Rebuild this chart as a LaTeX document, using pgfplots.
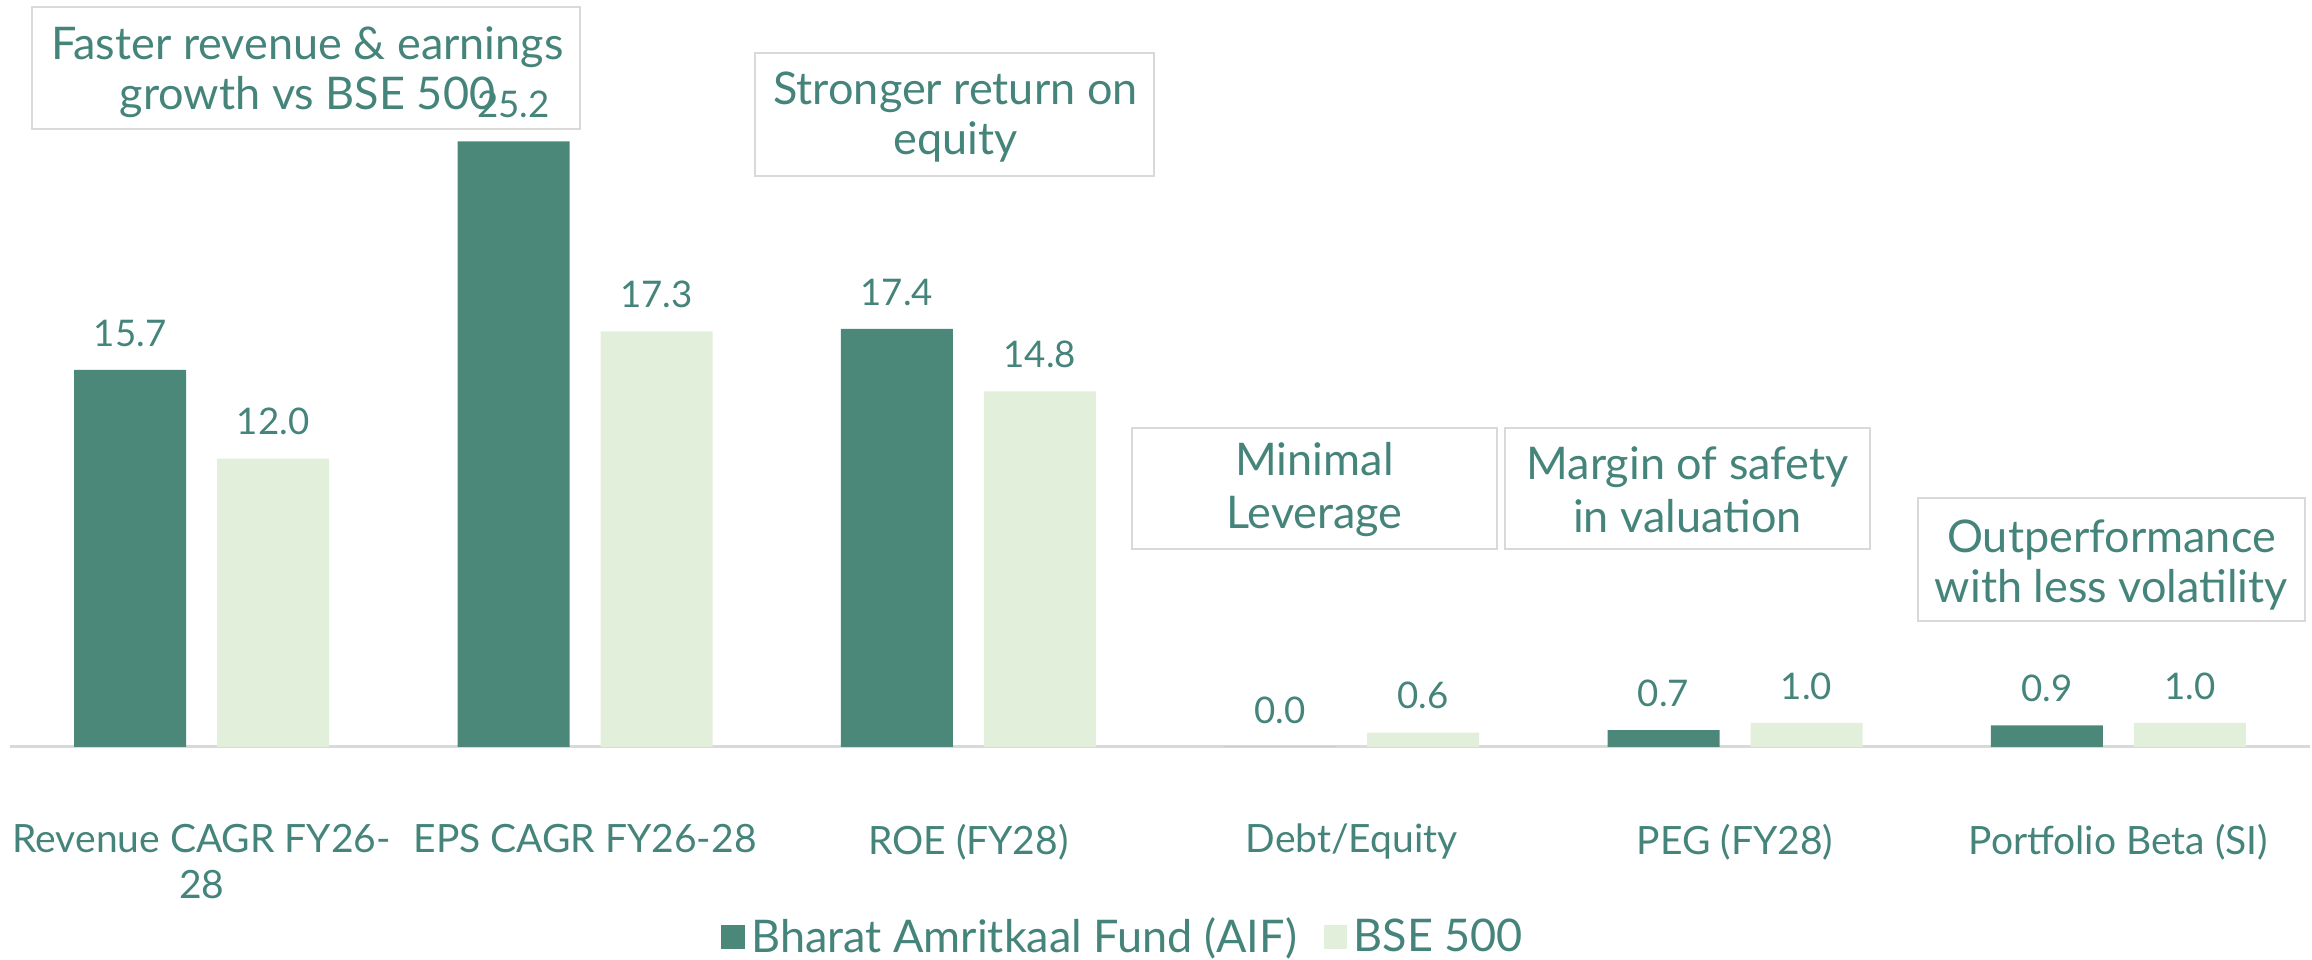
\documentclass[border=0pt]{standalone}
\usepackage{pgfplots}
\pgfplotsset{compat=1.18}
\usepackage{fontspec}
\setmainfont{Lato}
\definecolor{darkg}{HTML}{4B887A}
\definecolor{lightg}{HTML}{E2EFDA}
\definecolor{txt}{HTML}{45847A}
\definecolor{lgray}{HTML}{D9D9D9}

\begin{document}
\begin{tikzpicture}
\begin{axis}[
  at={(0,0)}, anchor=south west,
  scale only axis, width=690pt, height=224.1pt,
  xmin=-0.5, xmax=5.5, ymin=0, ymax=31.09,
  ybar=9.3pt, bar width=33.6pt,
  hide y axis,
  axis x line*=bottom,
  x axis line style={draw=lgray, line width=0.9pt, -},
  xtick={0,...,5},
  xticklabels={{Revenue CAGR FY26-\\28},{EPS CAGR FY26-28},{ROE (FY28)},{Debt/Equity},{PEG (FY28)},{Portfolio Beta (SI)}},
  xticklabel style={font=\fontsize{11.7}{13.8}\selectfont, text=txt, align=center, anchor=north, yshift=-19.5pt},
  major tick length=0pt,
  xtick style={draw=none},
  clip=false,
  /pgf/number format/assume math mode=true,
  nodes near coords={\pgfmathprintnumber[fixed,fixed zerofill,precision=1]{\pgfplotspointmeta}},
  nodes near coords style={font=\fontsize{11}{13}\selectfont, text=txt, yshift=3.5pt},
  legend style={at={(0.485,-0.255)}, anchor=center, draw=none, fill=none,
    font=\fontsize{13.5}{16}\selectfont, text=txt, legend columns=2,
    /tikz/every even column/.append style={column sep=6pt}},
  legend image code/.code={\fill[#1] (0pt,-3.6pt) rectangle (7pt,3.6pt);},
]
\addplot[fill=darkg, draw=none] coordinates {(0,15.7) (1,25.2) (2,17.4) (3,0.0) (4,0.7) (5,0.9)};
\addplot[fill=lightg, draw=none] coordinates {(0,12.0) (1,17.3) (2,14.8) (3,0.6) (4,1.0) (5,1.0)};
\legend{Bharat Amritkaal Fund (AIF), BSE 500}
\end{axis}

\tikzset{boxtxt/.style={text=txt, font=\fontsize{13.5}{15}\selectfont, align=center, inner sep=0pt}}
\draw[lgray, line width=0.8pt] (6.6pt,185.4pt) rectangle (171pt,222pt);
\node[boxtxt] at (89.25pt,202.3pt) {Faster revenue \& earnings\\growth vs BSE 500};
\draw[lgray, line width=0.8pt] (223.5pt,171.3pt) rectangle (343.2pt,208.2pt);
\node[boxtxt] at (283.65pt,189.0pt) {Stronger return on\\equity};
\draw[lgray, line width=0.8pt] (336.6pt,59.4pt) rectangle (446.1pt,95.7pt);
\node[boxtxt, font=\fontsize{13.5}{15.9}\selectfont] at (391.35pt,77.25pt) {Minimal\\Leverage};
\draw[lgray, line width=0.8pt] (448.5pt,59.4pt) rectangle (558pt,95.7pt);
\node[boxtxt, font=\fontsize{13.5}{15.9}\selectfont] at (503.25pt,77.25pt) {Margin of safety\\in valuation};
\draw[lgray, line width=0.8pt] (572.4pt,37.8pt) rectangle (688.5pt,74.7pt);
\node[boxtxt] at (630.45pt,54.6pt) {Outperformance\\with less volatility};

\pgfresetboundingbox
\path[use as bounding box] (-3pt,-63.9pt) rectangle (690.6pt,224.1pt);
\end{tikzpicture}
\end{document}
